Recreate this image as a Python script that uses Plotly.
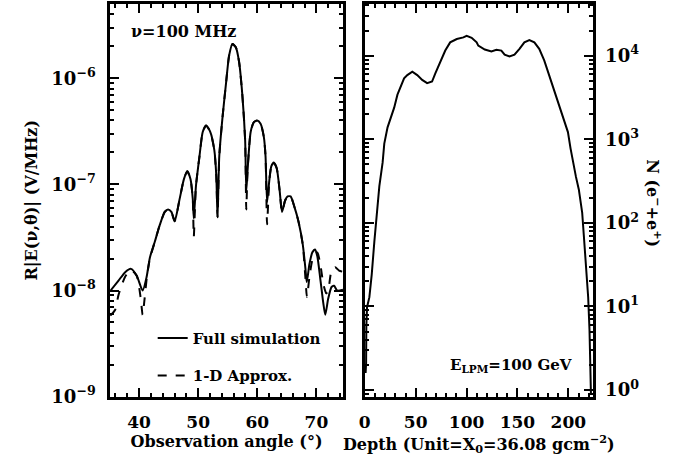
import plotly.graph_objects as go

# ---- Left panel: field vs observation angle ----
full_angle = [35.13, 36.53, 37.65, 38.65, 39.61, 40.61, 41.28, 41.84, 42.69, 43.51,
              44.35, 44.91, 45.47, 46.03, 46.87, 47.59, 48.16, 48.71, 49.09, 49.26,
              49.63, 50.22, 50.77, 51.34, 52.06, 52.73, 53.07, 53.28, 53.57, 54.12,
              54.69, 55.24, 55.80, 56.37, 56.92, 57.47, 57.95, 58.14, 58.35, 58.88,
              59.43, 59.99, 60.56, 61.11, 61.40, 61.66, 62.03, 62.37, 62.79, 63.29,
              63.79, 64.18, 64.71, 65.13, 65.64, 66.31, 66.98, 67.70, 68.15, 68.37,
              68.82, 69.32, 69.77, 70.16, 70.66, 71.17, 71.50, 72.00, 72.56, 73.00,
              73.51, 74.50]
full_field = [9.9e-9, 1.24e-8, 1.49e-8, 1.60e-8, 1.38e-8, 1.0e-8, 1.34e-8, 2.05e-8, 2.91e-8, 4.15e-8,
              5.5e-8, 5.8e-8, 5.5e-8, 4.5e-8, 7.3e-8, 1.12e-7, 1.33e-7, 1.12e-7, 7.3e-8, 4.8e-8,
              9.7e-8, 1.83e-7, 3.11e-7, 3.59e-7, 3.11e-7, 2.11e-7, 1.2e-7, 4.9e-8, 1.83e-7, 4.28e-7,
              8.7e-7, 1.64e-6, 2.1e-6, 1.96e-6, 1.43e-6, 7.0e-7, 2.6e-7, 8.7e-8, 1.33e-7, 3.11e-7,
              3.85e-7, 4.0e-7, 3.72e-7, 2.8e-7, 1.83e-7, 6.8e-8, 1.08e-7, 1.48e-7, 1.61e-7, 1.42e-7,
              8.7e-8, 5.5e-8, 7.05e-8, 7.7e-8, 7.7e-8, 6.07e-8, 4.45e-8, 2.71e-8, 1.6e-8, 1.2e-8,
              1.77e-8, 2.29e-8, 2.44e-8, 2.1e-8, 1.29e-8, 7.6e-9, 5.9e-9, 8.4e-9, 1.08e-8, 1.11e-8,
              1.0e-8, 1.02e-8]

approx_angle = [35.13, 35.97, 36.53, 37.65, 38.65, 39.61, 40.28, 40.61, 40.95, 41.33,
                41.84, 42.69, 43.51, 44.35, 44.91, 45.47, 46.03, 46.87, 47.59, 48.16,
                48.71, 49.09, 49.26, 49.63, 50.22, 50.77, 51.34, 52.06, 52.73, 53.07,
                53.28, 53.57, 54.12, 54.69, 55.24, 55.80, 56.37, 56.92, 57.47, 57.95,
                58.14, 58.35, 58.88, 59.43, 59.99, 60.56, 61.11, 61.40, 61.66, 62.03,
                62.37, 62.79, 63.29, 63.79, 64.18, 64.71, 65.13, 65.64, 66.31, 66.98,
                67.70, 68.15, 68.40, 68.90, 69.49, 70.16, 70.66, 71.17, 71.67, 72.00,
                72.56, 73.17, 73.84, 74.50]
approx_field = [5.8e-9, 6.6e-9, 9.1e-9, 1.35e-8, 1.56e-8, 1.38e-8, 8.5e-9, 5.9e-9, 8.5e-9, 1.35e-8,
                2.0e-8, 2.91e-8, 4.15e-8, 5.5e-8, 5.8e-8, 5.5e-8, 4.5e-8, 7.3e-8, 1.12e-7, 1.33e-7,
                1.12e-7, 7.3e-8, 3.2e-8, 9.7e-8, 1.83e-7, 3.11e-7, 3.59e-7, 3.11e-7, 2.11e-7, 1.2e-7,
                4.9e-8, 1.83e-7, 4.28e-7, 8.7e-7, 1.64e-6, 2.1e-6, 1.96e-6, 1.43e-6, 7.0e-7, 2.6e-7,
                5.8e-8, 1.33e-7, 3.11e-7, 3.85e-7, 4.0e-7, 3.72e-7, 2.8e-7, 1.83e-7, 4.2e-8, 1.08e-7,
                1.48e-7, 1.61e-7, 1.42e-7, 8.7e-8, 5.5e-8, 7.05e-8, 7.7e-8, 7.7e-8, 6.07e-8, 4.45e-8,
                2.71e-8, 1.3e-8, 8.7e-9, 1.45e-8, 2.1e-8, 2.28e-8, 1.77e-8, 1.16e-8, 9.4e-9, 1.0e-8,
                1.54e-8, 1.66e-8, 1.54e-8, 1.5e-8]

# ---- Right panel: shower size vs depth ----
depth = [0.8, 1.3, 1.5, 2.2, 4.5, 6.8, 9.4, 12.0, 14.3, 17.5,
         19.15, 22.36, 25.57, 28.87, 32.08, 35.29, 38.6, 41.8, 46.67, 51.53,
         56.39, 61.25, 66.11, 69.3, 74.2, 79.06, 83.9, 90.4, 96.9, 100.1,
         105.0, 109.9, 111.5, 117.9, 124.4, 129.3, 134.2, 137.4, 142.2, 147.1,
         152.0, 156.8, 161.7, 166.6, 171.4, 176.3, 181.1, 186.0, 190.9, 195.7,
         199.6, 202.2, 205.4, 207.5, 210.3, 213.6, 215.2, 217.5, 219.5, 220.8,
         221.7, 222.2]
n_particles = [1.6, 2.1, 5.7, 9.8, 12.9, 24, 60, 148, 275, 525,
               887, 1390, 1820, 2390, 3420, 4300, 5370, 5870, 6440, 5870,
               5130, 4700, 4910, 6150, 8430, 11530, 14450, 15850, 16560, 17300,
               16400, 14450, 13200, 11860, 11220, 11750, 11530, 10280, 9820, 10280,
               12080, 14450, 15420, 14450, 12080, 8810, 5870, 3920, 2610, 1740,
               1220, 774, 472, 355, 251, 133, 71, 29, 12.9, 5.2,
               1.6, 0.9]

# tick labels
left_tickvals = [1e-9, 1e-8, 1e-7, 1e-6]
left_ticktext = ["10<sup>−9</sup>", "10<sup>−8</sup>", "10<sup>−7</sup>", "10<sup>−6</sup>"]
right_tickvals = [1, 10, 100, 1000, 10000]
right_ticktext = ["10<sup>0</sup>", "10<sup>1</sup>", "10<sup>2</sup>", "10<sup>3</sup>", "10<sup>4</sup>"]

FONT = "DejaVu Serif"
tick_font = dict(family=FONT, size=18, color="black", weight="bold")
title_font = dict(family=FONT, size=16, color="black", weight="bold")
ann_font = dict(family=FONT, size=15, color="black", weight="bold")

fig = go.Figure()
fig.add_trace(go.Scatter(x=full_angle, y=full_field, mode="lines", name="Full simulation",
                         line=dict(color="black", width=2, shape="spline", smoothing=0.6),
                         xaxis="x", yaxis="y", legendgroup="a"))
fig.add_trace(go.Scatter(x=approx_angle, y=approx_field, mode="lines", name="1-D Approx.",
                         line=dict(color="black", width=2, dash="dash", shape="spline", smoothing=0.6),
                         xaxis="x", yaxis="y", legendgroup="b"))
fig.add_trace(go.Scatter(x=depth, y=n_particles, mode="lines", showlegend=False,
                         line=dict(color="black", width=2),
                         xaxis="x2", yaxis="y2"))

common = dict(showline=True, linewidth=2.5, linecolor="black", mirror="allticks",
              ticks="inside", ticklen=9, tickwidth=1.5, tickcolor="black",
              showgrid=False, zeroline=False)

fig.update_layout(
    width=678, height=460,
    margin=dict(l=0, r=0, t=0, b=0),
    paper_bgcolor="white", plot_bgcolor="white",
    xaxis=dict(domain=[105/678, 340/678], range=[35.1, 74.5], dtick=10, tick0=0,
               ticklabelstandoff=8, tickfont=dict(tick_font, size=17),
               minor=dict(ticks="inside", ticklen=4, dtick=2, tickcolor="black"),
               title=dict(text="Observation angle (°)", font=title_font, standoff=0),
               anchor="y", **common),
    yaxis=dict(domain=[1-405.5/460, 1-4/460], type="log", range=[-9, -5.3],
               tickmode="array", tickvals=left_tickvals, ticktext=left_ticktext,
               ticklabelstandoff=8, tickfont=tick_font,
               minor=dict(ticks="inside", ticklen=4, dtick="D1", tickcolor="black"),
               title=dict(text="R|E(ν,θ)| (V/MHz)", font=title_font, standoff=10),
               anchor="x", **common),
    xaxis2=dict(domain=[362/678, 592/678], range=[0, 224], dtick=50, tick0=0,
                ticklabelstandoff=8, tickfont=dict(tick_font, size=17),
                minor=dict(ticks="inside", ticklen=4, dtick=10, tickcolor="black"),
                title=dict(text="Depth (Unit=X<sub>0</sub>=36.08 gcm<sup>−2</sup>)", font=title_font, standoff=0),
                anchor="y2", **common),
    yaxis2=dict(domain=[1-405.5/460, 1-4/460], type="log", range=[-0.08, 4.62],
                tickmode="array", tickvals=right_tickvals, ticktext=right_ticktext,
                side="right", ticklabelstandoff=6, tickfont=tick_font,
                minor=dict(ticks="inside", ticklen=4, dtick="D1", tickcolor="black"),
                anchor="x2", **common),
    legend=dict(x=148/678, y=1-329/460, xanchor="left", yanchor="top",
                font=ann_font, bgcolor="rgba(0,0,0,0)", traceorder="grouped",
                tracegroupgap=15),
    annotations=[
        dict(text="ν=100 MHz", x=124/678, y=1-32/460, xref="paper", yref="paper",
             xanchor="left", yanchor="middle", showarrow=False, font=dict(ann_font, size=16)),
        dict(text="E<sub>LPM</sub>=100 GeV", x=446/678, y=1-374/460, xref="paper", yref="paper",
             xanchor="left", yanchor="middle", showarrow=False, font=ann_font),
        dict(text="N (e<sup>−</sup>+e<sup>+</sup>)", x=653/678, y=1-208/460, xref="paper", yref="paper",
             xanchor="center", yanchor="middle", showarrow=False, textangle=90, font=title_font),
    ],
)

fig.write_html("out.html")
